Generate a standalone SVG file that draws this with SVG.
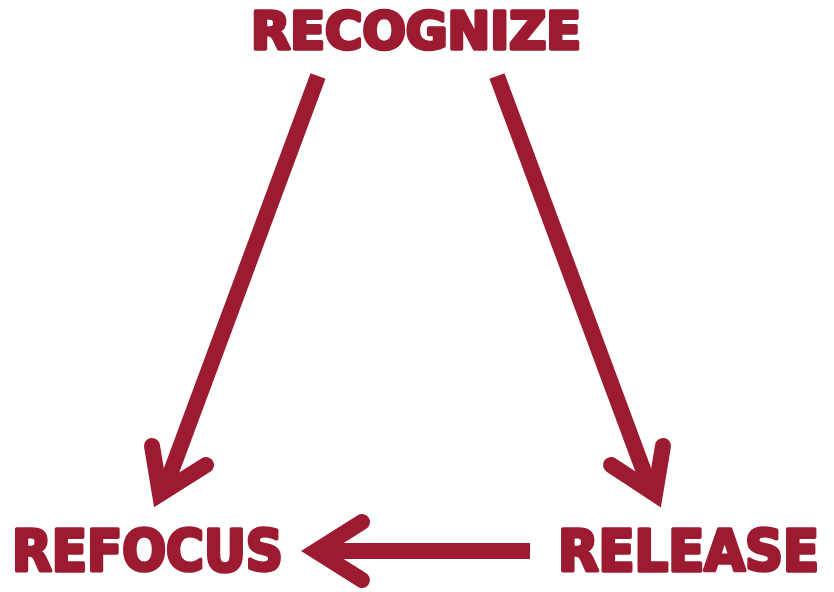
<svg xmlns="http://www.w3.org/2000/svg" width="834" height="592" viewBox="0 0 834 592">
<style>
.lbl{font-family:"DejaVu Sans Condensed","DejaVu Sans","Liberation Sans",sans-serif;font-weight:bold;fill:#9c1b31;stroke:#9c1b31;stroke-width:3.5;stroke-linejoin:round}
.shaft{stroke:#9c1b31;stroke-width:16;fill:none;stroke-linecap:butt}
.head{stroke:#9c1b31;stroke-width:16;fill:none;stroke-linecap:round;stroke-linejoin:miter;stroke-miterlimit:10}
</style>
<rect width="834" height="592" fill="#ffffff"/>
<g id="recognize"><text class="lbl" x="251" y="49" font-size="51" textLength="330" lengthAdjust="spacingAndGlyphs">RECOGNIZE</text></g>
<g id="refocus"><text class="lbl" x="12" y="571" font-size="57" textLength="271" lengthAdjust="spacingAndGlyphs">REFOCUS</text></g>
<g id="release"><text class="lbl" x="558" y="571" font-size="57" textLength="261" lengthAdjust="spacingAndGlyphs">RELEASE</text></g>
<g id="connectors">
<path class="shaft" d="M318 76 L165 488"/>
<path class="head" d="M152 446 L160 494 L206 465"/>
<path class="shaft" d="M497 76 L650 488"/>
<path class="head" d="M611 465 L655 494 L663 446"/>
<path class="shaft" d="M530 551 L325 551"/>
<path class="head" d="M362 522 L316 551 L362 580"/>
</g>
</svg>
